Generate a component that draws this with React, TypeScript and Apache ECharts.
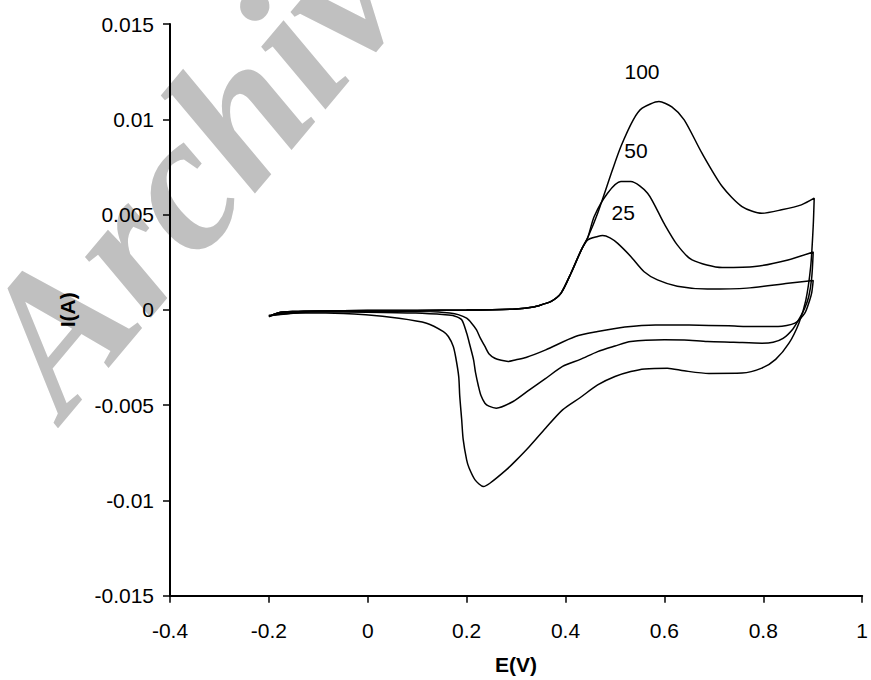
import React, { useEffect, useRef } from "react";
import * as echarts from "echarts";

// Cyclic voltammograms: [E (V), I (A)] pairs, forward scan then reverse scan
const curve25: [number, number][] = [
  [-0.2, -0.00035], [-0.18, -0.00015], [-0.15, -0.00009], [-0.1, -0.00006], [0, -0.00004],
  [0.1, -0.00003], [0.2, -0.00001], [0.3, 0.00005], [0.335, 0.00015], [0.355, 0.0003],
  [0.371, 0.00044], [0.391, 0.00088], [0.411, 0.00192], [0.432, 0.00315], [0.445, 0.00367],
  [0.465, 0.00385], [0.475, 0.0039], [0.49, 0.00378], [0.505, 0.0035], [0.532, 0.0028],
  [0.559, 0.002], [0.586, 0.00157], [0.626, 0.00124], [0.687, 0.00109], [0.767, 0.00114],
  [0.85, 0.0014], [0.901, 0.00154],
  [0.898, 0.0009], [0.894, 0.00052], [0.884, -0.00017], [0.864, -0.0007], [0.83, -0.00088],
  [0.78, -0.00088], [0.73, -0.00084], [0.65, -0.0008], [0.582, -0.00079], [0.52, -0.0009],
  [0.465, -0.00114], [0.42, -0.0014], [0.36, -0.0021], [0.32, -0.0025], [0.3, -0.00262],
  [0.284, -0.00271], [0.27, -0.00265], [0.257, -0.00254], [0.245, -0.0023], [0.237, -0.00192],
  [0.228, -0.0015], [0.22, -0.00105], [0.21, -0.0007], [0.2, -0.00044], [0.183, -0.00025],
  [0.166, -0.00017], [0.126, -0.00009], [0, -0.00007], [-0.1, -0.00007], [-0.2, -0.0003],
];

const curve50: [number, number][] = [
  [-0.2, -0.00035], [-0.18, -0.00015], [-0.15, -0.00009], [-0.1, -0.00006], [0, -0.00004],
  [0.1, -0.00003], [0.2, -0.00001], [0.3, 0.00005], [0.335, 0.00015], [0.355, 0.0003],
  [0.371, 0.00044], [0.391, 0.00088], [0.411, 0.00192], [0.432, 0.00315], [0.445, 0.0038],
  [0.458, 0.0049], [0.485, 0.00612], [0.512, 0.00673], [0.532, 0.00673], [0.566, 0.00612],
  [0.599, 0.00455], [0.626, 0.00341], [0.656, 0.00262], [0.717, 0.00222],
  [0.783, 0.00227], [0.85, 0.00262], [0.901, 0.00304],
  [0.898, 0.0017], [0.892, 0.0007], [0.884, 0.0001], [0.872, -0.0005], [0.86, -0.001],
  [0.84, -0.0015], [0.82, -0.0017], [0.797, -0.00175], [0.74, -0.0017], [0.687, -0.00166],
  [0.64, -0.00158], [0.6, -0.00157], [0.532, -0.00166], [0.5, -0.0019], [0.465, -0.00219],
  [0.43, -0.0026], [0.394, -0.00297], [0.36, -0.0036], [0.327, -0.0042], [0.294, -0.00481],
  [0.26, -0.00516], [0.245, -0.00505], [0.237, -0.0049], [0.229, -0.0045], [0.224, -0.00402],
  [0.218, -0.0033], [0.214, -0.00262], [0.207, -0.0019], [0.2, -0.00122], [0.19, -0.00052],
  [0.175, -0.00032], [0.157, -0.00026], [0.097, -0.00017], [0, -0.00012], [-0.1, -0.0001],
  [-0.2, -0.0003],
];

const curve100: [number, number][] = [
  [-0.2, -0.00035], [-0.18, -0.00015], [-0.15, -0.00009], [-0.1, -0.00006], [0, -0.00004],
  [0.1, -0.00003], [0.2, -0.00001], [0.3, 0.00005], [0.335, 0.00015], [0.355, 0.0003],
  [0.371, 0.00044], [0.391, 0.00088], [0.411, 0.00192], [0.432, 0.00315], [0.445, 0.0038],
  [0.465, 0.00507], [0.495, 0.00735], [0.512, 0.00857], [0.537, 0.00997], [0.555, 0.01058],
  [0.589, 0.01093], [0.615, 0.01065], [0.64, 0.00997], [0.676, 0.00822], [0.717, 0.00647],
  [0.757, 0.00542], [0.797, 0.00507], [0.837, 0.00525], [0.877, 0.00551], [0.903, 0.00586],
  [0.901, 0.0044], [0.896, 0.0023], [0.886, 0.0005], [0.872, -0.0007], [0.852, -0.00175],
  [0.825, -0.0026], [0.797, -0.00306], [0.757, -0.00332], [0.69, -0.00334], [0.64, -0.0032],
  [0.606, -0.00306], [0.56, -0.0031], [0.532, -0.00324], [0.5, -0.0035], [0.465, -0.00394],
  [0.43, -0.0046], [0.394, -0.00525], [0.36, -0.0062], [0.327, -0.00717], [0.3, -0.0079],
  [0.28, -0.0084], [0.247, -0.0091], [0.234, -0.00927], [0.217, -0.00892], [0.205, -0.0083],
  [0.2, -0.00787], [0.193, -0.0068], [0.19, -0.00577], [0.186, -0.0045], [0.184, -0.0035],
  [0.178, -0.0025], [0.173, -0.00192], [0.163, -0.0014], [0.153, -0.00114], [0.119, -0.0007],
  [0.063, -0.00044], [-0.004, -0.00026], [-0.085, -0.00017], [-0.169, -0.00017],
  [-0.2, -0.00035],
];

// Scan-rate labels placed in data coordinates
const curveLabels: { name: string; value: [number, number] }[] = [
  { name: "100", value: [0.5547, 0.01249] },
  { name: "50", value: [0.5423, 0.00835] },
  { name: "25", value: [0.5165, 0.0051] },
];

const xTicks = { min: -0.4, max: 1, interval: 0.2 };
const yTicks = { min: -0.015, max: 0.015, interval: 0.005 };

const FONT = "Liberation Sans, Arial, sans-serif";

export default function App() {
  const ref = useRef<HTMLDivElement>(null);
  useEffect(() => {
    if (!ref.current) return;
    const chart = echarts.init(ref.current, undefined, { renderer: "svg" });
    const lineSeries = (data: [number, number][], name: string) => ({
      type: "line",
      name,
      data,
      showSymbol: false,
      symbol: "none",
      smooth: 0.25,
      lineStyle: { color: "#000", width: 1.5 },
      z: 3,
    });
    chart.setOption({
      animation: false,
      backgroundColor: "#fff",
      textStyle: { fontFamily: FONT },
      grid: { left: 170, right: 5.3, top: 24, bottom: 84.3, containLabel: false },
      graphic: [
        {
          type: "text",
          x: 14,
          y: 378,
          rotation: (50 * Math.PI) / 180,
          z: -10,
          silent: true,
          style: {
            text: "Archive",
            fontFamily: "Liberation Serif",
            fontStyle: "italic",
            fontWeight: "bold",
            fontSize: 195,
            fill: "#c0c0c0",
            align: "left",
            verticalAlign: "middle",
          },
        },
      ],
      xAxis: {
        type: "value",
        min: xTicks.min,
        max: xTicks.max,
        interval: xTicks.interval,
        name: "E(V)",
        nameLocation: "middle",
        nameGap: 58,
        nameTextStyle: { color: "#000", fontSize: 21, fontWeight: "bold", fontFamily: FONT },
        axisLine: { onZero: false, lineStyle: { color: "#000", width: 2 } },
        axisTick: { show: true, inside: false, length: 7, lineStyle: { color: "#000", width: 1.5 } },
        axisLabel: { color: "#000", fontSize: 21, margin: 24, fontFamily: FONT },
        splitLine: { show: false },
      },
      yAxis: {
        type: "value",
        min: yTicks.min,
        max: yTicks.max,
        interval: yTicks.interval,
        name: "I(A)",
        nameLocation: "middle",
        nameRotate: 90,
        nameGap: 92,
        nameTextStyle: { color: "#000", fontSize: 21, fontWeight: "bold", fontFamily: FONT },
        axisLine: { onZero: false, lineStyle: { color: "#000", width: 2 } },
        axisTick: { show: true, inside: false, length: 7, lineStyle: { color: "#000", width: 1.5 } },
        axisLabel: { color: "#000", fontSize: 21, margin: 16, fontFamily: FONT },
        splitLine: { show: false },
      },
      series: [
        lineSeries(curve25, "25"),
        lineSeries(curve50, "50"),
        lineSeries(curve100, "100"),
        {
          type: "scatter",
          data: curveLabels,
          symbolSize: 0,
          silent: true,
          z: 4,
          itemStyle: { color: "#000", opacity: 1 },
          label: {
            show: true,
            position: "inside",
            formatter: (p: any) => p.name,
            color: "#000",
            textBorderWidth: 0,
            fontSize: 21,
            fontFamily: FONT,
          },
        },
      ],
    });
    return () => chart.dispose();
  }, []);
  return (
    <div
      ref={ref}
      style={{ width: 871, height: 680, position: "absolute", left: 0, top: 0, background: "#fff" }}
    />
  );
}
